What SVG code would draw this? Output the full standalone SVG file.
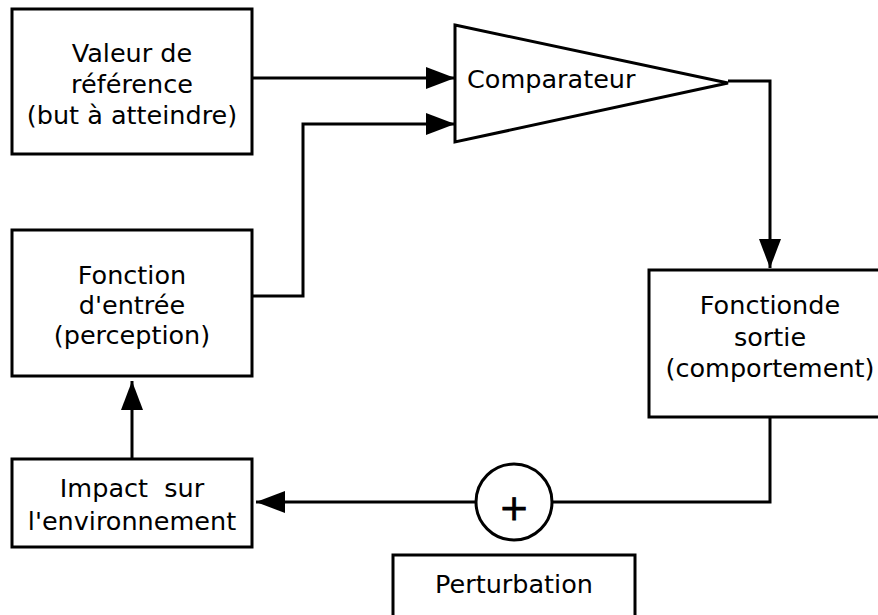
<svg xmlns="http://www.w3.org/2000/svg" width="878" height="615" viewBox="0 0 878 615">
<style>
.box{fill:#fff;stroke:#000;stroke-width:3}
.tri{fill:#fff;stroke:#000;stroke-width:3;stroke-linejoin:miter}
.ln{fill:none;stroke:#000;stroke-width:3}
text{font-family:"DejaVu Sans","Verdana",sans-serif;font-size:25.5px;fill:#000;text-anchor:middle}
</style>
<defs>
<marker id="ah" markerUnits="userSpaceOnUse" markerWidth="30" markerHeight="22" refX="29" refY="11" orient="auto" viewBox="0 0 30 22">
<path d="M0,0 L29,11 L0,22 z" fill="#000"/>
</marker>
</defs>
<g id="connectors">
<path class="ln" d="M248,78 H455" marker-end="url(#ah)"/>
<path class="ln" d="M250,296 H303 V124 H455" marker-end="url(#ah)"/>
<path class="ln" d="M728,81 H770 V268" marker-end="url(#ah)"/>
<path class="ln" d="M770,417 V502 H552"/>
<path class="ln" d="M476,502 H256" marker-end="url(#ah)"/>
<path class="ln" d="M132,459 V381" marker-end="url(#ah)"/>
</g>
<g id="valeur">
<rect class="box" x="12" y="9" width="240" height="145"/>
<text x="132" y="62">Valeur de</text>
<text x="132" y="93">référence</text>
<text x="132" y="124">(but à atteindre)</text>
</g>
<g id="comparateur">
<polygon class="tri" points="455,25 728,83 455,142"/>
<text x="467" y="88" style="text-anchor:start">Comparateur</text>
</g>
<g id="entree">
<rect class="box" x="12" y="230" width="240" height="146"/>
<text x="132" y="284">Fonction</text>
<text x="132" y="314">d'entrée</text>
<text x="132" y="344">(perception)</text>
</g>
<g id="sortie">
<rect class="box" x="649" y="270" width="242" height="147"/>
<text x="770" y="314">Fonctionde</text>
<text x="770" y="346">sortie</text>
<text x="770" y="377">(comportement)</text>
</g>
<g id="impact">
<rect class="box" x="12" y="459" width="240" height="88"/>
<text x="132" y="497" xml:space="preserve">Impact  sur</text>
<text x="132" y="530">l'environnement</text>
</g>
<g id="somme">
<circle class="box" cx="514" cy="502" r="38"/>
<text x="514" y="520" style="font-size:36px;stroke:#000;stroke-width:0.8">+</text>
</g>
<g id="perturbation">
<rect class="box" x="393" y="555" width="242" height="80"/>
<text x="514" y="593">Perturbation</text>
</g>
</svg>
